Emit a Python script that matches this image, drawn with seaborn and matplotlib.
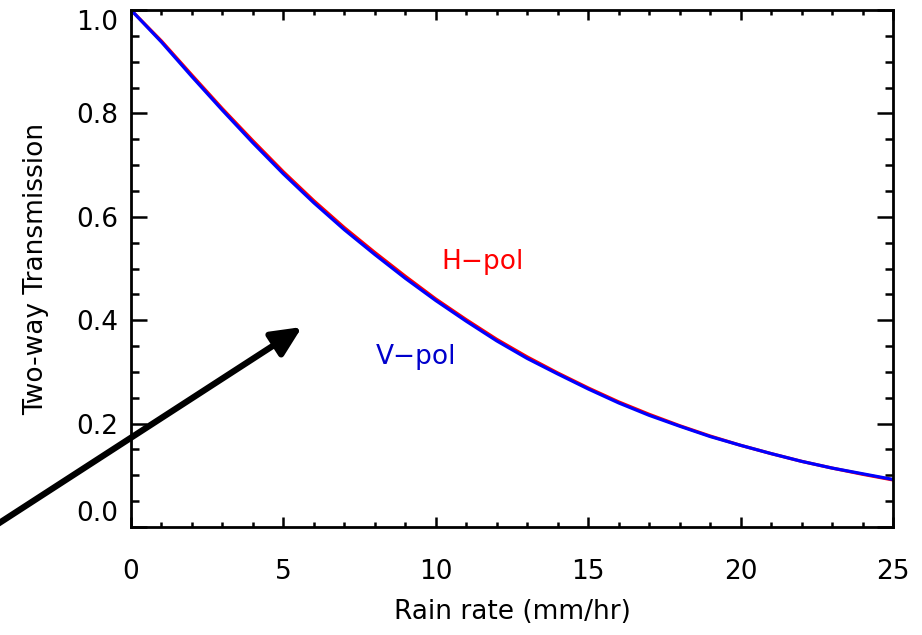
import numpy as np
import pandas as pd
import matplotlib
matplotlib.use("Agg")
import matplotlib.pyplot as plt
import seaborn as sns
from matplotlib.ticker import MultipleLocator

# ---- data ----
rain_rate = [0, 1, 2, 3, 4, 5, 6, 7, 8, 9, 10, 11, 12, 13, 14, 15, 16, 17, 18,
             19, 20, 21, 22, 23, 24, 25]
h_pol = [1.000, 0.940, 0.874, 0.809, 0.747, 0.687, 0.631, 0.579, 0.531, 0.485,
         0.441, 0.401, 0.363, 0.329, 0.298, 0.269, 0.242, 0.218, 0.196, 0.176,
         0.158, 0.142, 0.127, 0.114, 0.102, 0.091]
v_pol = [1.000, 0.938, 0.871, 0.806, 0.743, 0.683, 0.627, 0.575, 0.527, 0.481,
         0.438, 0.398, 0.360, 0.326, 0.296, 0.267, 0.240, 0.216, 0.195, 0.175,
         0.158, 0.142, 0.127, 0.114, 0.103, 0.092]
x_ticks = [0, 5, 10, 15, 20, 25]
y_ticks = [0.0, 0.2, 0.4, 0.6, 0.8, 1.0]

df = pd.DataFrame({"rain": rain_rate * 2,
                   "trans": h_pol + v_pol,
                   "pol": ["H-pol"] * len(rain_rate) + ["V-pol"] * len(rain_rate)})

sns.set_style("ticks")
plt.rcParams["font.family"] = ["DejaVu Sans"]
plt.rcParams["text.color"] = "black"
plt.rcParams["axes.labelcolor"] = "black"

fig = plt.figure(figsize=(9.22, 6.35), dpi=100)
ax = fig.add_axes([131 / 922, 1 - 527 / 635, (893 - 131) / 922, (527 - 10) / 635])

sns.lineplot(data=df, x="rain", y="trans", hue="pol",
             palette={"H-pol": "#ff0000", "V-pol": "#0000ff"},
             linewidth=2.3, legend=False, ax=ax, estimator=None)

ax.set_xlim(0, 25)
ax.set_ylim(0, 1.0)
ax.xaxis.set_major_locator(MultipleLocator(5))
ax.xaxis.set_minor_locator(MultipleLocator(1))
ax.yaxis.set_major_locator(MultipleLocator(0.2))
ax.yaxis.set_minor_locator(MultipleLocator(0.05))
ax.set_xticks(x_ticks)
ax.set_xticklabels([str(t) for t in x_ticks])
ax.set_yticks(y_ticks)
ax.set_yticklabels([f"{t:.1f}" for t in y_ticks])

for s in ax.spines.values():
    s.set_visible(True)
    s.set_linewidth(2.0)
    s.set_color("black")

ax.tick_params(axis="both", which="both", direction="in", top=True, right=True,
               colors="black", width=1.8)
ax.tick_params(axis="x", which="major", length=7.5, pad=23, labelsize=19)
ax.tick_params(axis="x", which="minor", length=3.8)
ax.tick_params(axis="y", which="major", length=11.5, pad=9, labelsize=19)
ax.tick_params(axis="y", which="minor", length=5.8)

fig.canvas.draw()
ylabels = ax.get_yticklabels()
ylabels[0].set_va("bottom")
ylabels[-1].set_va("top")

ax.set_xlabel("Rain rate (mm/hr)", fontsize=19, labelpad=10, color="black")
ax.set_ylabel("Two-way Transmission", fontsize=19, labelpad=20, color="black")

ax.text(11.55, 0.513, "H\u2212pol", color="#ff0000", fontsize=19,
        ha="center", va="center")
ax.text(9.35, 0.329, "V\u2212pol", color="#0000cc", fontsize=19,
        ha="center", va="center")

ax.annotate("", xy=(302, 635 - 327), xycoords="figure pixels",
            xytext=(-10, 635 - 529), textcoords="figure pixels",
            arrowprops=dict(arrowstyle="-|>,head_length=0.9,head_width=0.42",
                            mutation_scale=20,
                            color="black", lw=4.5, shrinkA=0, shrinkB=0),
            annotation_clip=False)

fig.savefig("out.png", dpi=100)
